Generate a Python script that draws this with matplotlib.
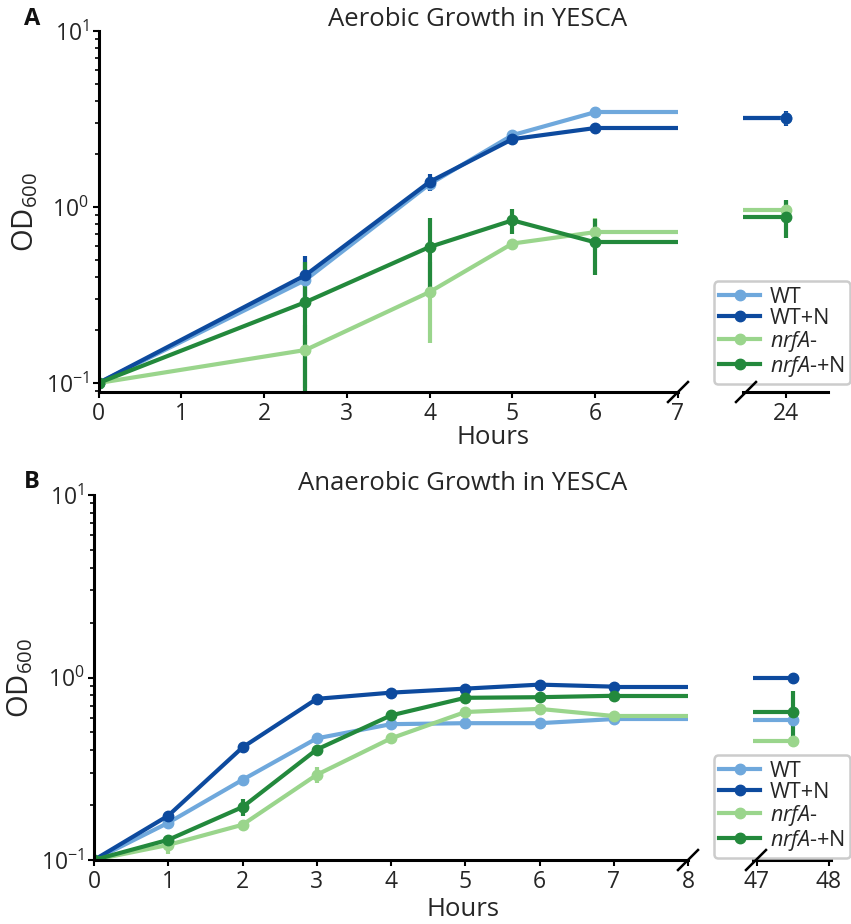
import matplotlib
matplotlib.use("Agg")
import matplotlib.pyplot as plt
from matplotlib.legend_handler import HandlerErrorbar
from matplotlib.container import ErrorbarContainer
import numpy as np

plt.rcParams['font.family'] = ['Open Sans', 'DejaVu Sans']
plt.rcParams['mathtext.fontset'] = 'custom'
plt.rcParams['mathtext.rm'] = 'Open Sans'
plt.rcParams['mathtext.it'] = 'Open Sans:italic'
plt.rcParams['mathtext.bf'] = 'Open Sans:bold'

# ---------------- data ----------------
series_names = ["WT", "WT+N", r"$\it{nrfA}$-", r"$\it{nrfA}$-+N"]
colors = ["#6fa8dc", "#0d4a9e", "#9ad58c", "#23893c"]

# Panel A: aerobic
hours_a = [0, 2.5, 4, 5, 6]
late_a = 24
od_a = {
    "WT":      [0.1, 0.385, 1.35, 2.56, 3.46],
    "WT+N":    [0.1, 0.41, 1.39, 2.43, 2.81],
    "nrfA-":   [0.1, 0.154, 0.329, 0.62, 0.72],
    "nrfA-+N": [0.1, 0.288, 0.593, 0.84, 0.63],
}
err_a = {
    "WT":      [0, 0.03, 0.10, 0.15, 0.25],
    "WT+N":    [0, 0.12, 0.15, 0.10, 0.08],
    "nrfA-":   [0, 0.06, 0.16, 0.03, 0.15],
    "nrfA-+N": [0, 0.20, 0.27, 0.14, 0.22],
}
od_a_late = {"WT": 3.2, "WT+N": 3.2, "nrfA-": 0.96, "nrfA-+N": 0.88}
err_a_late = {"WT": 0.2, "WT+N": 0.3, "nrfA-": 0.12, "nrfA-+N": 0.21}

# Panel B: anaerobic
hours_b = [0, 1, 2, 3, 4, 5, 6, 7]
late_b = 47.5
od_b = {
    "WT":      [0.1, 0.16, 0.275, 0.464, 0.555, 0.562, 0.562, 0.592],
    "WT+N":    [0.1, 0.175, 0.414, 0.764, 0.826, 0.869, 0.914, 0.891],
    "nrfA-":   [0.1, 0.121, 0.156, 0.293, 0.464, 0.647, 0.673, 0.615],
    "nrfA-+N": [0.1, 0.129, 0.195, 0.403, 0.62, 0.774, 0.78, 0.794],
}
err_b = {
    "WT":      [0, 0.005, 0.01, 0.01, 0.01, 0.01, 0.01, 0.01],
    "WT+N":    [0, 0.008, 0.01, 0.01, 0.01, 0.01, 0.01, 0.01],
    "nrfA-":   [0, 0.013, 0.008, 0.03, 0.01, 0.01, 0.01, 0.01],
    "nrfA-+N": [0, 0.006, 0.02, 0.01, 0.01, 0.01, 0.01, 0.01],
}
od_b_late = {"WT": 0.584, "WT+N": 1.0, "nrfA-": 0.447, "nrfA-+N": 0.647}
err_b_late = {"WT": 0.01, "WT+N": 0.01, "nrfA-": 0.01, "nrfA-+N": 0.2}

keys = ["WT", "WT+N", "nrfA-", "nrfA-+N"]

# ---------------- figure ----------------
W, H = 851, 924
fig = plt.figure(figsize=(W / 100, H / 100), dpi=100)


def fx(px):
    return px / W


def fy(py):
    return 1 - py / H


LW = 3.0
MS = 7.5
TXT = "#262626"
FS_TICK = 16.5
FS_LAB = 18.5
FS_LEG = 15.5


def style_axes(ax, left_spine=True):
    ax.spines['top'].set_visible(False)
    ax.spines['right'].set_visible(False)
    for s in ax.spines.values():
        s.set_linewidth(2.2)
    ax.tick_params(axis='x', length=4, width=1.5, labelsize=FS_TICK, labelcolor=TXT, pad=3)
    if left_spine:
        ax.tick_params(axis='y', which='major', length=4, width=1.5, labelsize=FS_TICK,
                       labelcolor=TXT, pad=3)
        ax.tick_params(axis='y', which='minor', length=3, width=1.2)
    else:
        ax.spines['left'].set_visible(False)
        ax.tick_params(axis='y', which='both', left=False, labelleft=False)


def panel(main_rect, late_rect, hours, od, err, late_x, od_late, err_late,
          xmax, late_xlim, late_ticks, ylim, title, title_xy, letter, letter_y, hours_xy):
    ax = fig.add_axes(main_rect)
    ax2 = fig.add_axes(late_rect, sharey=ax)
    ax.set_yscale('log')
    handles = []
    for k, c, name in zip(keys, colors, series_names):
        h = ax.errorbar(hours, od[k], yerr=err[k], fmt='-o', color=c, lw=LW, ms=MS,
                        elinewidth=LW, capsize=0, label=name)
        ax.plot([hours[-1], xmax], [od[k][-1], od[k][-1]], color=c, lw=LW)
        handles.append(h)
        ax2.plot([late_xlim[0], late_x], [od_late[k], od_late[k]], color=c, lw=LW)
        ax2.errorbar([late_x], [od_late[k]], yerr=[err_late[k]], fmt='o', color=c, ms=MS,
                     elinewidth=LW, capsize=0)
    ax.set_xlim(0, xmax)
    ax.set_ylim(*ylim)
    ax.set_xticks(range(0, xmax + 1))
    ax2.set_xlim(*late_xlim)
    ax2.set_xticks(late_ticks)
    style_axes(ax)
    style_axes(ax2, left_spine=False)
    ax.set_ylabel(r'OD$_{600}$', fontsize=21, color=TXT, labelpad=4)
    fig.text(fx(hours_xy[0]), fy(hours_xy[1]), "Hours", fontsize=FS_LAB, color=TXT,
             ha='center', va='center')
    fig.text(fx(title_xy[0]), fy(title_xy[1]), title, fontsize=FS_LAB, color=TXT,
             ha='left', va='center')
    fig.text(fx(32), fy(letter_y), letter, fontsize=17, fontweight='bold', color='#111111',
             ha='center', va='center')
    # break marks
    fig.canvas.draw()
    for a, xa in ((ax, 1.0), (ax2, 0.0)):
        x0, y0 = a.transAxes.transform((xa, 0))
        d = 10
        if a is ax2:
            x0 += 3
        fig.add_artist(plt.Line2D([(x0 - d) / fig.bbox.width, (x0 + d) / fig.bbox.width],
                                  [(y0 - d) / fig.bbox.height, (y0 + d) / fig.bbox.height],
                                  transform=fig.transFigure, color='black', lw=1.8))
    return ax, ax2, handles


axA, axA2, hA = panel(
    [fx(98.5), fy(392), fx(678 - 98.5), (392 - 31) / H],
    [fx(743), fy(392), fx(828 - 743), (392 - 31) / H],
    hours_a, od_a, err_a, late_a, od_a_late, err_a_late,
    7, (23.48, 24.51), [24], (10 ** (-1 - 9 / 176), 10),
    "Aerobic Growth in YESCA", (328, 20), "A", 19, (493, 438))

axB, axB2, hB = panel(
    [fx(94), fy(860), fx(688 - 94), (860 - 495) / H],
    [fx(753), fy(860), fx(831 - 753), (860 - 495) / H],
    hours_b, od_b, err_b, late_b, od_b_late, err_b_late,
    8, (46.95, 48.03), [47, 48], (0.1, 10),
    "Anaerobic Growth in YESCA", (298, 483), "B", 482, (463, 910))

for ax2, hs, top in ((axA2, hA, 384), (axB2, hB, 858)):
    leg = ax2.legend(hs, series_names, loc='lower right',
                     bbox_to_anchor=(fx(850), fy(top)), bbox_transform=fig.transFigure,
                     fontsize=FS_LEG, frameon=True, fancybox=True, framealpha=1,
                     edgecolor='#cccccc', handlelength=1.9, handletextpad=0.45,
                     labelspacing=0.0, borderpad=0.25, borderaxespad=0,
                     handler_map={ErrorbarContainer: HandlerErrorbar(xerr_size=0.2, yerr_size=0.22)})
    leg.get_frame().set_linewidth(1.8)
    for t in leg.get_texts():
        t.set_color(TXT)

fig.savefig("out.png", dpi=100)
